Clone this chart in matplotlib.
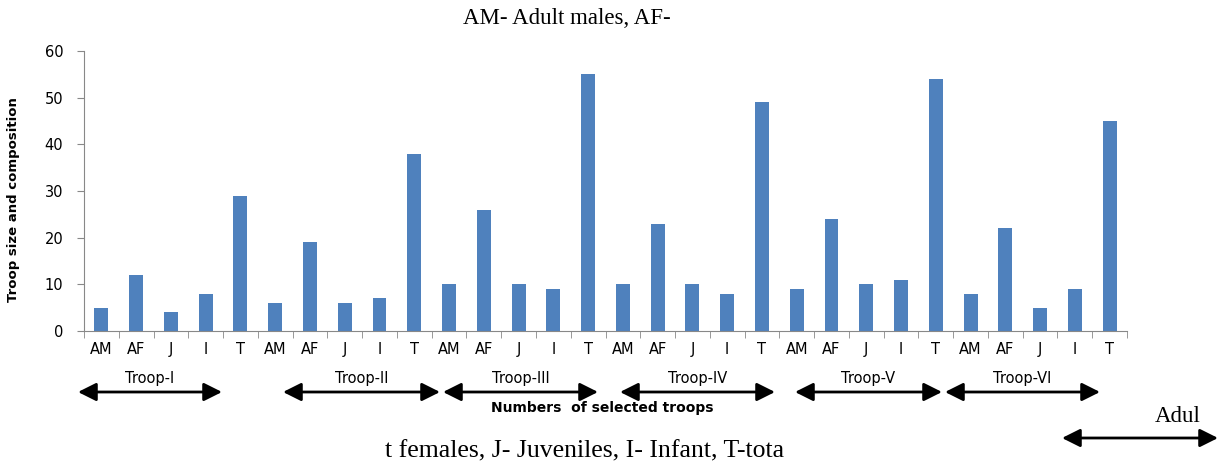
from matplotlib import pyplot as plt
import numpy as np

# troop composition per troop: AM, AF, J, I, T
groups = ["AM", "AF", "J", "I", "T"]
troops = ["Troop-I", "Troop-II", "Troop-III", "Troop-IV", "Troop-V", "Troop-VI"]
troop1 = [5, 12, 4, 8, 29]
troop2 = [6, 19, 6, 7, 38]
troop3 = [10, 26, 10, 9, 55]
troop4 = [10, 23, 10, 8, 49]
troop5 = [9, 24, 10, 11, 54]
troop6 = [8, 22, 5, 9, 45]

values = troop1 + troop2 + troop3 + troop4 + troop5 + troop6
labels = groups * len(troops)
x = np.arange(len(values))

W, H = 1221, 466
fig = plt.figure(figsize=(W / 100, H / 100), dpi=100)
ax = fig.add_axes([84 / W, 1 - 331 / H, (1127 - 84) / W, 280 / H])

ax.bar(x, values, width=0.4, color="#4F81BD")
ax.set_xlim(-0.5, len(values) - 0.5)
ax.set_ylim(0, 60)
ax.set_yticks(range(0, 61, 10))
ax.set_xticks(x)
ax.set_xticklabels(labels)
ax.set_xticks(np.arange(-0.5, len(values), 1), minor=True)
ax.tick_params(axis="x", which="major", length=0, pad=8, labelsize=10.5)
ax.tick_params(axis="x", which="minor", length=5, color="#888888", direction="out")
ax.tick_params(axis="y", length=5, color="#888888", labelsize=10.5, pad=10)
for s in ["top", "right"]:
    ax.spines[s].set_visible(False)
for s in ["left", "bottom"]:
    ax.spines[s].set_color("#888888")
ax.set_ylabel("Troop size and composition", fontweight="bold", fontsize=9.5,
              family="DejaVu Sans")
ax.yaxis.set_label_coords(-64 / (1127 - 84), 0.47)

# overlay in pixel coords for the troop arrows and captions
ov = fig.add_axes([0, 0, 1, 1])
ov.set_xlim(0, W)
ov.set_ylim(H, 0)
ov.axis("off")

arrow = dict(arrowstyle="<|-|>,head_length=1.1,head_width=0.55",
             color="black", lw=2, shrinkA=0, shrinkB=0)
spans = [(78, 222), (283, 440), (443, 598), (620, 775), (795, 942), (945, 1100)]
for name, (a, b) in zip(troops, spans):
    ov.annotate("", xy=(b, 392), xytext=(a, 392), arrowprops=arrow)
    ov.text((a + b) / 2, 378, name, ha="center", va="center", fontsize=10.5)

ov.text(602, 408, "Numbers  of selected troops", ha="center", va="center",
        fontsize=10, fontweight="bold")
ov.annotate("", xy=(1218, 438), xytext=(1062, 438), arrowprops=arrow)

serif = "Liberation Serif"
ov.text(567, 18, "AM- Adult males, AF-", ha="center", va="center", fontsize=16.5, family=serif)
ov.text(585, 451, "t females, J- Juveniles, I- Infant, T-tota", ha="center", va="center",
        fontsize=18.5, family=serif)
ov.text(1178, 416, "Adul", ha="center", va="center", fontsize=16.5, family=serif)

fig.savefig("out.png", dpi=100)
